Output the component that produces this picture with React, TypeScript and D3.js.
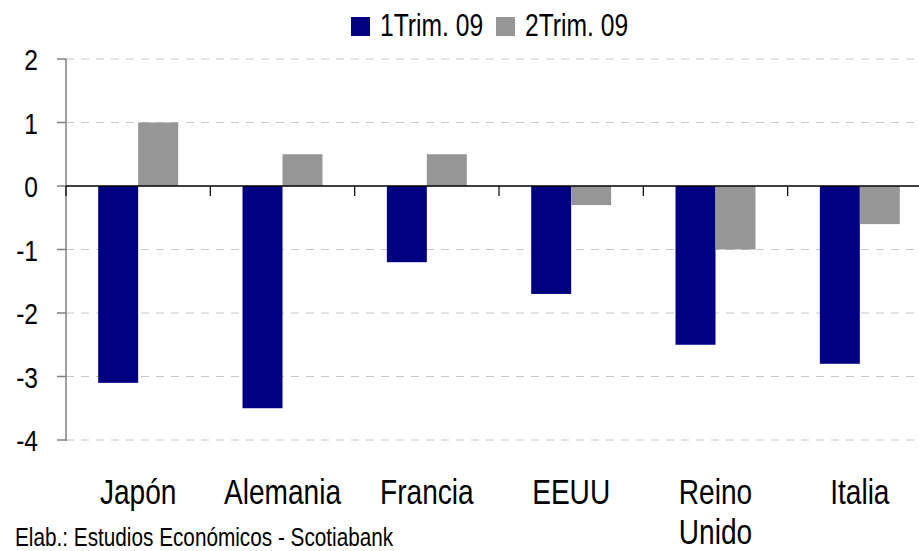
import React from "react";
import * as d3 from "d3";

const categories = ["Japón", "Alemania", "Francia", "EEUU", "Reino Unido", "Italia"];
const categoryLines = [["Japón"], ["Alemania"], ["Francia"], ["EEUU"], ["Reino", "Unido"], ["Italia"]];
const seriesNames = ["1Trim. 09", "2Trim. 09"];
const trim1 = [-3.1, -3.5, -1.2, -1.7, -2.5, -2.8];
const trim2 = [1.0, 0.5, 0.5, -0.3, -1.0, -0.6];
const yTicks = [2, 1, 0, -1, -2, -3, -4];
const colors = ["#000080", "#969696"];
const source = "Elab.: Estudios Económicos - Scotiabank";

const W = 919;
const H = 551;
const FONT = "'Liberation Sans', Arial, sans-serif";

function Txt(props: { x: number; y: number; size: number; sx: number; anchor?: string; children: React.ReactNode }) {
  const { x, y, size, sx, anchor, children } = props;
  return (
    <text
      transform={`translate(${x},${y}) scale(${sx},1)`}
      fontSize={size}
      textAnchor={anchor || "start"}
      fill="#000"
    >
      {children}
    </text>
  );
}

export default function App() {
  const left = 66;
  const right = 932;
  const y = d3.scaleLinear().domain([-4, 2]).range([440, 59]);
  const x = d3.scaleBand<string>().domain(categories).range([left, right]).paddingInner(0).paddingOuter(0);
  const bw = x.bandwidth();
  const barW = bw * 0.277;
  const series = [trim1, trim2];

  return (
    <svg width={W} height={H} style={{ position: "absolute", left: 0, top: 0, background: "#fff" }} fontFamily={FONT}>
      {yTicks.filter((t) => t !== 0).map((t) => (
        <line key={"g" + t} x1={left} x2={W} y1={y(t)} y2={y(t)} stroke="#c8c8c8" strokeWidth={1} strokeDasharray="8,7" />
      ))}
      {series.map((vals, si) =>
        categories.map((c, i) => {
          const v = vals[i];
          const cx = (x(c) as number) + bw / 2;
          const x0 = cx - barW + si * barW;
          return (
            <rect
              key={si + "-" + c}
              x={x0}
              y={Math.min(y(v), y(0))}
              width={barW}
              height={Math.abs(y(v) - y(0))}
              fill={colors[si]}
            />
          );
        })
      )}
      <line x1={left} x2={left} y1={y(2)} y2={y(-4) + 1} stroke="#808080" strokeWidth={1.5} />
      {yTicks.map((t) => (
        <g key={"t" + t}>
          <line x1={left - 9} x2={left} y1={y(t)} y2={y(t)} stroke="#808080" strokeWidth={1.5} />
          <Txt x={38} y={y(t) + 11} size={30} sx={0.82} anchor="end">
            {t}
          </Txt>
        </g>
      ))}
      <line x1={left} x2={W} y1={y(0)} y2={y(0)} stroke="#000" strokeWidth={1.5} />
      {categories.map((c) => (
        <line key={"xt" + c} x1={x(c) as number} x2={x(c) as number} y1={y(0)} y2={y(0) + 10} stroke="#000" strokeWidth={1.2} />
      ))}
      {categories.map((c, i) =>
        categoryLines[i].map((ln, k) => (
          <Txt key={"xl" + c + k} x={(x(c) as number) + bw / 2} y={504 + k * 40} size={36} sx={0.78} anchor="middle">
            {ln}
          </Txt>
        ))
      )}
      <rect x={351} y={17} width={19} height={19} fill={colors[0]} />
      <Txt x={380} y={36} size={32} sx={0.77}>{seriesNames[0]}</Txt>
      <rect x={496} y={17} width={19} height={19} fill={colors[1]} />
      <Txt x={525} y={36} size={32} sx={0.77}>{seriesNames[1]}</Txt>
      <Txt x={15} y={546} size={25} sx={0.83}>{source}</Txt>
    </svg>
  );
}
